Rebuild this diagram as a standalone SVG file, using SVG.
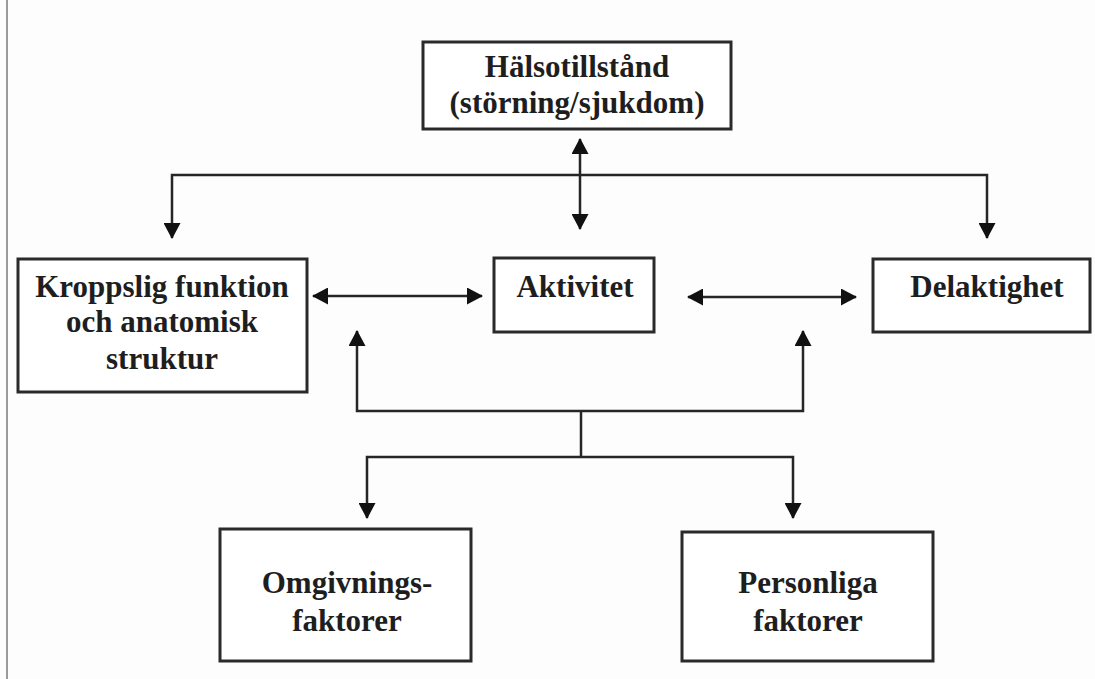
<svg xmlns="http://www.w3.org/2000/svg" width="1095" height="679" viewBox="0 0 1095 679">
  <style>
    .box { fill: #ffffff; stroke: #2a2a2a; stroke-width: 3; }
    .lbl { font-family: "Liberation Serif", "Times New Roman", serif; font-weight: bold; font-size: 31px; fill: #1e1e1e; text-anchor: middle; }
    .con { fill: none; stroke: #262626; stroke-width: 2.5; }
  </style>
  <defs>
    <marker id="ah" markerUnits="userSpaceOnUse" markerWidth="16" markerHeight="17" viewBox="0 0 16 17" refX="15" refY="8.5" orient="auto-start-reverse">
      <path d="M0,0 L16,8.5 L0,17 z" fill="#111111"/>
    </marker>
  </defs>
  <rect x="0" y="0" width="1095" height="679" fill="#fdfdfd"/>
  <line x1="7" y1="0" x2="7" y2="679" stroke="#9a9a9a" stroke-width="2"/>

  <g id="connectors">
    <path class="con" d="M580,139 V229" marker-start="url(#ah)" marker-end="url(#ah)"/>
    <path class="con" d="M580,175 H172 V238" marker-end="url(#ah)"/>
    <path class="con" d="M580,175 H987 V238" marker-end="url(#ah)"/>
    <path class="con" d="M313,296 H482" marker-start="url(#ah)" marker-end="url(#ah)"/>
    <path class="con" d="M688,297 H856" marker-start="url(#ah)" marker-end="url(#ah)"/>
    <path class="con" d="M357,331 V411 H803 V331" marker-start="url(#ah)" marker-end="url(#ah)"/>
    <path class="con" d="M581,411 V457"/>
    <path class="con" d="M581,457 H367 V518" marker-end="url(#ah)"/>
    <path class="con" d="M581,457 H793 V518" marker-end="url(#ah)"/>
  </g>

  <g id="halsotillstand">
    <rect class="box" x="423" y="42" width="308" height="87"/>
    <text class="lbl" x="577" y="77">Hälsotillstånd</text>
    <text class="lbl" x="577" y="113">(störning/sjukdom)</text>
  </g>

  <g id="kroppslig">
    <rect class="box" x="18" y="259" width="289" height="133"/>
    <text class="lbl" x="162" y="297">Kroppslig funktion</text>
    <text class="lbl" x="162" y="332">och anatomisk</text>
    <text class="lbl" x="162" y="369">struktur</text>
  </g>

  <g id="aktivitet">
    <rect class="box" x="494" y="258" width="160" height="74"/>
    <text class="lbl" x="575" y="297">Aktivitet</text>
  </g>

  <g id="delaktighet">
    <rect class="box" x="873" y="259" width="217" height="73"/>
    <text class="lbl" x="987" y="297">Delaktighet</text>
  </g>

  <g id="omgivningsfaktorer">
    <rect class="box" x="220" y="529" width="251" height="132"/>
    <text class="lbl" x="347" y="593">Omgivnings-</text>
    <text class="lbl" x="347" y="631">faktorer</text>
  </g>

  <g id="personliga">
    <rect class="box" x="682" y="532" width="251" height="129"/>
    <text class="lbl" x="808" y="593">Personliga</text>
    <text class="lbl" x="808" y="631">faktorer</text>
  </g>
</svg>
